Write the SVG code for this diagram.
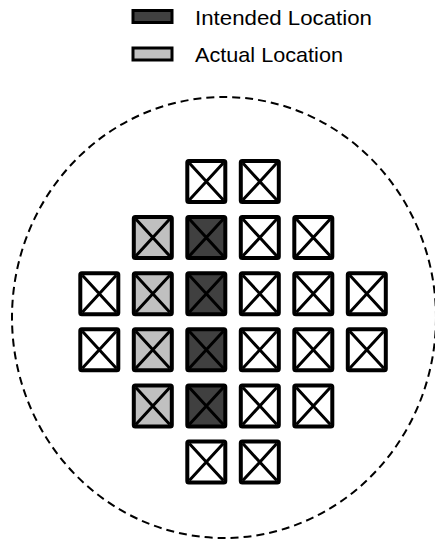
<svg xmlns="http://www.w3.org/2000/svg" xmlns:xlink="http://www.w3.org/1999/xlink" width="435" height="539" viewBox="0 0 435 539">
<defs>
<style>
.box{stroke:#000;stroke-width:4;stroke-linejoin:round}
.x{stroke:#000;stroke-width:3}
.w{fill:#fff}.d{fill:#404040}.l{fill:#c0c0c0}
.lg{stroke:#000;stroke-width:3}
.t{font-family:"Liberation Sans",Arial,sans-serif;font-size:21px;fill:#000}
</style>
<g id="cell">
<rect x="-19" y="-20.5" width="38" height="41" rx="1.5" class="box"/>
<path d="M-17,-18.5 L17,18.5 M17,-18.5 L-17,18.5" class="x"/>
</g>
</defs>
<rect width="435" height="539" fill="#fff"/>
<g id="legend">
<g id="legend-intended"><rect x="133" y="10.5" width="39" height="12" class="lg d"/><text x="195" y="25" class="t" textLength="177" lengthAdjust="spacingAndGlyphs">Intended Location</text></g>
<g id="legend-actual"><rect x="133" y="48" width="39" height="12" class="lg l"/><text x="195" y="61.5" class="t" textLength="148" lengthAdjust="spacingAndGlyphs">Actual Location</text></g>
</g>
<g id="boundary"><ellipse cx="224" cy="317.5" rx="212" ry="220.5" fill="none" stroke="#000" stroke-width="2" stroke-dasharray="8,5"/></g>
<g id="cells">
<g id="r0c2" class="w"><use xlink:href="#cell" x="206.3" y="181.6"/></g>
<g id="r0c3" class="w"><use xlink:href="#cell" x="259.8" y="181.6"/></g>
<g id="r1c1" class="l"><use xlink:href="#cell" x="152.8" y="237.6"/></g>
<g id="r1c2" class="d"><use xlink:href="#cell" x="206.3" y="237.6"/></g>
<g id="r1c3" class="w"><use xlink:href="#cell" x="259.8" y="237.6"/></g>
<g id="r1c4" class="w"><use xlink:href="#cell" x="313.3" y="237.6"/></g>
<g id="r2c0" class="w"><use xlink:href="#cell" x="99.3" y="293.7"/></g>
<g id="r2c1" class="l"><use xlink:href="#cell" x="152.8" y="293.7"/></g>
<g id="r2c2" class="d"><use xlink:href="#cell" x="206.3" y="293.7"/></g>
<g id="r2c3" class="w"><use xlink:href="#cell" x="259.8" y="293.7"/></g>
<g id="r2c4" class="w"><use xlink:href="#cell" x="313.3" y="293.7"/></g>
<g id="r2c5" class="w"><use xlink:href="#cell" x="366.8" y="293.7"/></g>
<g id="r3c0" class="w"><use xlink:href="#cell" x="99.3" y="349.8"/></g>
<g id="r3c1" class="l"><use xlink:href="#cell" x="152.8" y="349.8"/></g>
<g id="r3c2" class="d"><use xlink:href="#cell" x="206.3" y="349.8"/></g>
<g id="r3c3" class="w"><use xlink:href="#cell" x="259.8" y="349.8"/></g>
<g id="r3c4" class="w"><use xlink:href="#cell" x="313.3" y="349.8"/></g>
<g id="r3c5" class="w"><use xlink:href="#cell" x="366.8" y="349.8"/></g>
<g id="r4c1" class="l"><use xlink:href="#cell" x="152.8" y="405.9"/></g>
<g id="r4c2" class="d"><use xlink:href="#cell" x="206.3" y="405.9"/></g>
<g id="r4c3" class="w"><use xlink:href="#cell" x="259.8" y="405.9"/></g>
<g id="r4c4" class="w"><use xlink:href="#cell" x="313.3" y="405.9"/></g>
<g id="r5c2" class="w"><use xlink:href="#cell" x="206.3" y="462.1"/></g>
<g id="r5c3" class="w"><use xlink:href="#cell" x="259.8" y="462.1"/></g>
</g>
</svg>
